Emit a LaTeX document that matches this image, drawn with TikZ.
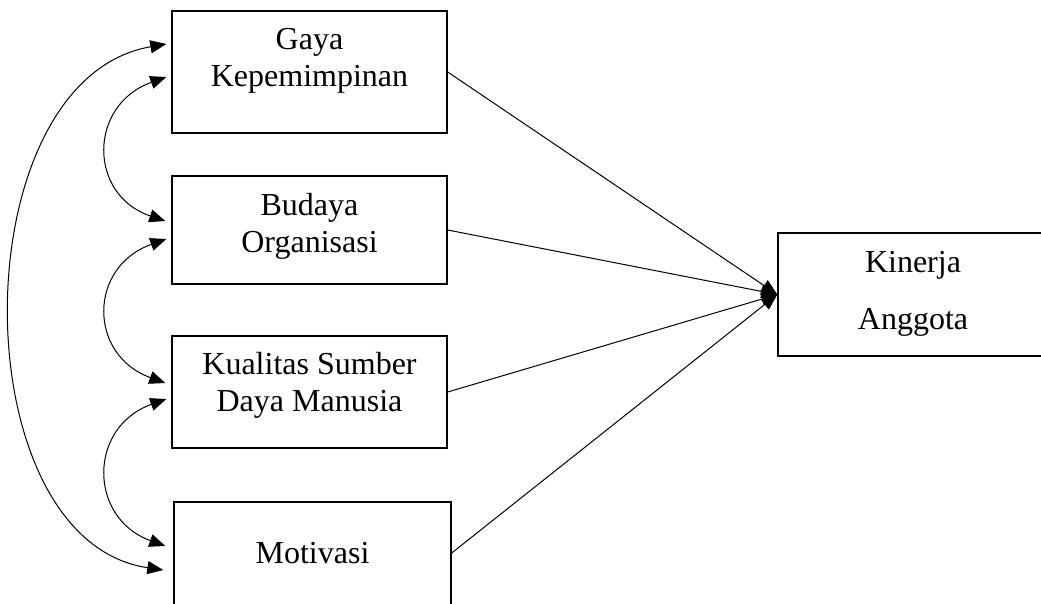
\documentclass[tikz,border=0pt]{standalone}
\usepackage{fontspec}
\setmainfont{Liberation Serif}
\usetikzlibrary{arrows.meta,calc}
\begin{document}
\begin{tikzpicture}[x=1pt,y=-1pt,
  box/.style={draw,line width=1.4pt,rectangle,inner sep=0pt},
  lbl/.style={align=center,font=\fontsize{32}{37}\selectfont,inner sep=0pt},
  conn/.style={line width=1pt,-{Triangle[length=16pt,width=13pt]}},
  dbl/.style={line width=1pt,{Triangle[length=16pt,width=13pt]}-{Triangle[length=16pt,width=13pt]}}]
\useasboundingbox (0,0) rectangle (1041,603);
% boxes
\node[box,minimum width=275pt,minimum height=122pt] (gaya) at (309.5,72) {};
\node[lbl] (gayat) at (309.5,61) {Gaya\\Kepemimpinan};
\node[box,minimum width=275pt,minimum height=108pt] (bud) at (309.5,230) {};
\node[lbl] (budt) at (309.5,226) {Budaya\\Organisasi};
\node[box,minimum width=275pt,minimum height=112pt] (kual) at (309.5,392) {};
\node[lbl] (kualt) at (309.5,385) {Kualitas Sumber\\Daya Manusia};
\node[box,minimum width=277pt,minimum height=112pt] (mot) at (312.5,558) {};
\node[lbl] (mott) at (312.5,553) {Motivasi};
\node[box,minimum width=400pt,minimum height=123pt] (kin) at (978,294.5) {};
\node[lbl,font=\fontsize{32}{57}\selectfont] (kint) at (913,293.5) {Kinerja\\Anggota};
% paths to Kinerja
\draw[conn] (gaya.east) -- (kin.west);
\draw[conn] (bud.east) -- (kin.west);
\draw[conn] (kual.east) -- (kin.west);
\draw[conn] ($(mot.east)+(0,-5)$) -- (kin.west);
% correlation end points
\coordinate (g1) at ($(gaya.west)+(-5,-28)$);
\coordinate (g2) at ($(gaya.west)+(-5,5)$);
\coordinate (b1) at ($(bud.west)+(-6,-9)$);
\coordinate (b2) at ($(bud.west)+(-5,9)$);
\coordinate (k1) at ($(kual.west)+(-6,-9)$);
\coordinate (k2) at ($(kual.west)+(-5,7)$);
\coordinate (m1) at ($(mot.west)+(-8,-12)$);
\coordinate (m2) at ($(mot.west)+(-10,12)$);
\draw[dbl] (g2) .. controls (88,105) and (88,195) .. (b1);
\draw[dbl] (b2) .. controls (88,267) and (88,355) .. (k1);
\draw[dbl] (k2) .. controls (88,427) and (88,518) .. (m1);
\draw[dbl] (g1) .. controls (-40,80) and (-40,540) .. (m2);
\end{tikzpicture}
\end{document}
